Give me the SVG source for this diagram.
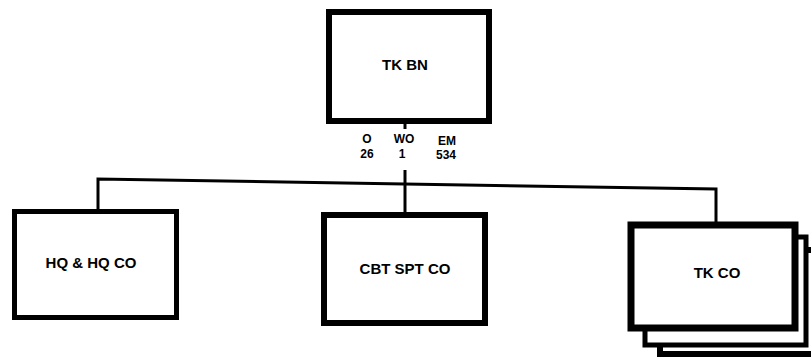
<svg xmlns="http://www.w3.org/2000/svg" width="811" height="359" viewBox="0 0 811 359">
<style>
.box{fill:#fff;stroke:#000;stroke-linejoin:miter}
.t{font-family:"Liberation Sans",Arial,sans-serif;font-weight:bold;font-size:15px;text-anchor:middle;fill:#000}
.s{font-family:"Liberation Sans",Arial,sans-serif;font-weight:bold;font-size:12px;text-anchor:middle;fill:#000}
.c{fill:none;stroke:#000;stroke-width:3}
</style>
<rect width="811" height="359" fill="#fff"/>
<g id="connectors">
<path class="c" d="M98,210 V179 L716,189 V223"/>
<path class="c" d="M405,170 V216"/>
<path class="c" d="M405,124 V129"/>
</g>
<g id="tk-bn">
<rect class="box" x="329" y="12" width="160" height="109" stroke-width="6"/>
<text class="t" x="405" y="70">TK BN</text>
<text class="s" x="367" y="143">O</text>
<text class="s" x="404" y="143">WO</text>
<text class="s" x="447" y="145">EM</text>
<text class="s" x="367" y="158">26</text>
<text class="s" x="402" y="158">1</text>
<text class="s" x="446" y="159">534</text>
</g>
<g id="hq-co">
<rect class="box" x="14.5" y="211.5" width="162" height="106" stroke-width="5"/>
<text class="t" x="91" y="268">HQ &amp; HQ CO</text>
</g>
<g id="cbt-spt-co">
<rect class="box" x="324" y="215" width="161" height="108" stroke-width="6"/>
<text class="t" x="405" y="274">CBT SPT CO</text>
</g>
<g id="tk-co">
<rect class="box" x="660" y="250" width="170" height="104" stroke-width="6"/>
<rect class="box" x="645" y="237" width="161" height="108" stroke-width="5"/>
<rect class="box" x="631" y="225" width="164" height="103" stroke-width="7"/>
<text class="t" x="717" y="278">TK CO</text>
</g>
</svg>
